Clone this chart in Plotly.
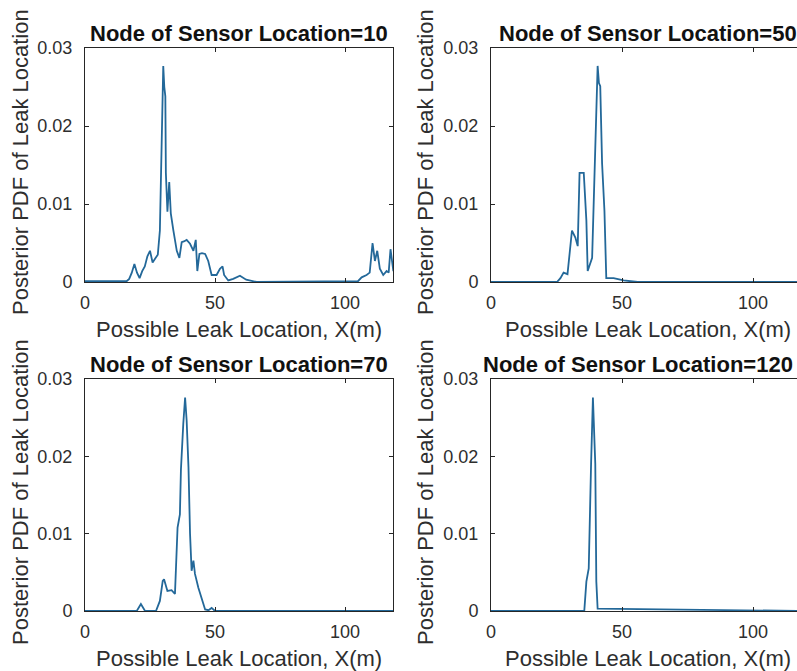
import plotly.graph_objects as go

W, H = 797, 671

titles = ["Node of Sensor Location=10", "Node of Sensor Location=50",
          "Node of Sensor Location=70", "Node of Sensor Location=120"]
x_label = "Possible Leak Location, X(m)"
y_label = "Posterior PDF of Leak Location"
x_ticks = [0, 50, 100]
y_ticks = [0, 0.01, 0.02, 0.03]
y_tick_text = ["0", "0.01", "0.02", "0.03"]

# Sensor at node 10
x10 = [0, 16, 17, 18, 19, 20, 21, 22, 23, 24, 25, 26, 27, 28, 28.8, 29.2, 29.6, 30.1, 30.5, 30.9, 31.1,
       31.7, 32.4, 33, 34, 35.3, 36.3, 37.2, 38, 39.1, 40.4, 41.7, 42.6, 43.2, 44, 45, 46.2, 47.4,
       48.7, 50.6, 51.9, 52.9, 53.5, 55.1, 57, 59.6, 62, 64.7, 66, 105, 106.4, 108.3, 109.5, 110.6,
       111.5, 112.4, 113.4, 114.7, 116, 116.8, 117.5, 118.6, 119]
y10 = [0.0001, 0.0001, 0.0004, 0.0012, 0.0023, 0.0012, 0.0005, 0.0014, 0.0020, 0.0033, 0.0040, 0.0025,
       0.0030, 0.0035, 0.0066, 0.0137, 0.0200, 0.0277, 0.0250, 0.0238, 0.0140, 0.0090, 0.0128, 0.0088,
       0.0066, 0.0040, 0.0031, 0.0051, 0.0052, 0.0054, 0.0049, 0.0040, 0.0054, 0.0014, 0.0036, 0.0037,
       0.0036, 0.0027, 0.0009, 0.0009, 0.0017, 0.0020, 0.0009, 0.0002, 0.0004, 0.0008, 0.0003, 0.0001,
       0.0, 0.0001, 0.0006, 0.0009, 0.0012, 0.0050, 0.0027, 0.0040, 0.0017, 0.0009, 0.0014, 0.0012,
       0.0042, 0.0014, 0.0040]

# Sensor at node 50
x50 = [0, 25.2, 26.5, 27.7, 29.2, 30.0, 30.9, 32.2, 33.1, 33.8, 35.4, 36.4, 36.9, 38.6, 39.8, 40.7,
       41.2, 41.7, 42.4, 43.3, 44.0, 46.8, 50.6, 54.4, 56, 120]
y50 = [0.0, 0.0, 0.0005, 0.0012, 0.0010, 0.0040, 0.0066, 0.0057, 0.0046, 0.0140, 0.0140, 0.0079,
       0.0014, 0.0031, 0.0163, 0.0277, 0.0255, 0.0251, 0.0152, 0.0091, 0.0005, 0.0005, 0.0002,
       0.0001, 0.0, 0.0]

# Sensor at node 70
x70 = [0, 19.9, 21.5, 23.1, 27.3, 28.8, 29.9, 30.4, 31.7, 33.3, 34.6, 35.3, 35.6, 36.5, 36.9, 37.8,
       38.5, 39.1, 39.8, 40.4, 41.0, 41.7, 42.3, 43.6, 44.9, 46.2, 47.5, 48.7, 50.0, 120]
y70 = [0.0, 0.0, 0.0009, 0.0, 0.0, 0.0013, 0.0039, 0.0041, 0.0026, 0.0027, 0.0022, 0.0073, 0.0108,
       0.0125, 0.0183, 0.0242, 0.0276, 0.0246, 0.0186, 0.0100, 0.0052, 0.0065, 0.0048, 0.0030,
       0.0015, 0.0002, 0.0001, 0.0004, 0.0, 0.0]

# Sensor at node 120
x120 = [0, 35.6, 36.4, 37.3, 38.2, 38.9, 39.6, 39.8, 40.2, 40.7, 120]
y120 = [0.0, 0.0, 0.0038, 0.0055, 0.0190, 0.0276, 0.0209, 0.0190, 0.0038, 0.0003, 0.0]

series = [(x10, y10), (x50, y50), (x70, y70), (x120, y120)]

# pixel layout of the four axes boxes
left_px = [85, 491, 85, 491]
right_px = [393, 797, 393, 797]
top_px = [48, 48, 379, 379]
bot_px = [282, 282, 611, 611]
px_per_unit = [2.6, 2.62, 2.6, 2.62]

LINE = "#236899"
AX = "#262626"
TXT = "#2e2e2e"
FONT = "Liberation Sans, Arial, sans-serif"

fig = go.Figure()
layout = dict(width=W, height=H, margin=dict(l=0, r=0, t=0, b=0, pad=0),
              paper_bgcolor="white", plot_bgcolor="white", showlegend=False,
              font=dict(family=FONT, color=TXT))
annotations = []
for i, (xs, ys) in enumerate(series):
    k = "" if i == 0 else str(i + 1)
    fig.add_trace(go.Scatter(x=xs, y=ys, mode="lines", line=dict(color=LINE, width=1.8),
                             xaxis="x" + k, yaxis="y" + k, hoverinfo="skip"))
    xr = (right_px[i] - left_px[i]) / px_per_unit[i]
    is_right = i in (1, 3)
    layout["xaxis" + k] = dict(domain=[left_px[i] / W, min(right_px[i] / W, 1.0)],
                               range=[0, xr], anchor="y" + k, tickvals=x_ticks,
                               ticks="inside", ticklen=4, tickcolor=AX, showline=True,
                               linecolor=AX, linewidth=1, mirror="ticks", showgrid=False,
                               zeroline=False, tickfont=dict(size=18, color=TXT),
                               ticklabelstandoff=4, automargin=False)
    layout["yaxis" + k] = dict(domain=[1 - bot_px[i] / H, 1 - top_px[i] / H],
                               range=[0, 0.03], anchor="x" + k, tickvals=y_ticks,
                               ticktext=y_tick_text,
                               ticks="inside", ticklen=4, tickcolor=AX, showline=True,
                               linecolor=AX, linewidth=1,
                               mirror=False if is_right else "ticks",
                               showgrid=False, zeroline=False,
                               tickfont=dict(size=18, color=TXT), ticklabelstandoff=8,
                               automargin=False)
    cx_center = (left_px[i] + (805 if is_right else right_px[i])) / 2
    cy_center = (top_px[i] + bot_px[i]) / 2
    if i == 3:
        tx, txa = 795 / W, "right"
    else:
        tx, txa = cx_center / W, "center"
    annotations.append(dict(text="<b>" + titles[i] + "</b>", x=tx,
                            y=1 - (top_px[i] - 15) / H, xref="paper", yref="paper",
                            xanchor=txa, yanchor="middle", showarrow=False,
                            font=dict(size=22, color="#111111", family=FONT)))
    annotations.append(dict(text=x_label, x=cx_center / W, y=1 - (bot_px[i] + 47) / H,
                            xref="paper", yref="paper", xanchor="center", yanchor="middle",
                            showarrow=False, font=dict(size=22, color=TXT, family=FONT)))
    annotations.append(dict(text=y_label, x=(20 if not is_right else 425) / W,
                            y=1 - (cy_center - 3) / H, xref="paper", yref="paper",
                            xanchor="center", yanchor="middle", textangle=-90,
                            showarrow=False, font=dict(size=22, color=TXT, family=FONT)))
layout["annotations"] = annotations
fig.update_layout(**layout)
fig.write_html("out.html")
